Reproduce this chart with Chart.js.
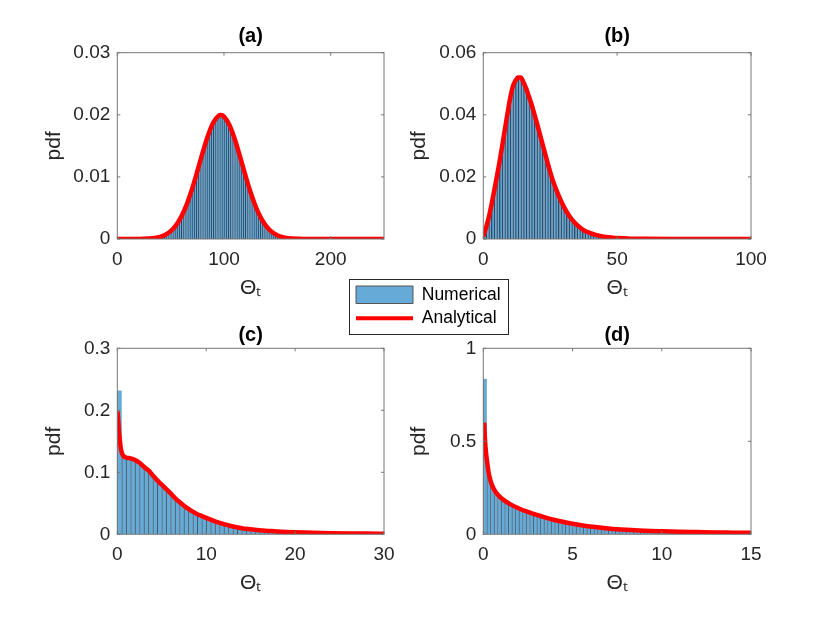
<!DOCTYPE html>
<html>
<head>
<meta charset="utf-8">
<script src="https://cdn.jsdelivr.net/npm/chart.js@4.4.1/dist/chart.umd.min.js"></script>
<style>
  body { margin: 0; background: #fff; }
  #fig { position: relative; width: 830px; height: 623px; overflow: hidden; background: #fff; }
  #fig > canvas { position: absolute; }
  #legendBox { position: absolute; left: 349px; top: 279px; width: 158px; height: 54px;
               border: 1px solid #262626; background: #fff; }
  #legendBox canvas { display: block; }
</style>
</head>
<body>
<div id="fig">
  <canvas id="pa" width="415" height="310" style="left:0;top:0"></canvas>
  <canvas id="pb" width="435" height="310" style="left:395px;top:0"></canvas>
  <canvas id="pc" width="415" height="313" style="left:0;top:310px"></canvas>
  <canvas id="pd" width="435" height="313" style="left:395px;top:310px"></canvas>
  <div id="legendBox"><canvas id="leg" width="158" height="54"></canvas></div>
</div>
<script>
// ---- (a) ----
const lineAX = [0, 10, 20, 30, 35, 40, 45, 50, 55, 60, 65, 70, 75, 80, 85, 90, 95, 97, 100, 105, 110, 115, 120, 125, 130, 135, 140, 145, 150, 155, 160, 170, 180, 200, 225, 250];
const lineAY = [0, 0, 0, 0.00007, 0.00016, 0.00034, 0.00068, 0.00126, 0.0022, 0.0036, 0.00554, 0.00802, 0.01089, 0.0139, 0.01666, 0.01876, 0.01985, 0.01995, 0.01972, 0.01841, 0.01615, 0.0133, 0.0103, 0.00749, 0.00511, 0.00328, 0.00198, 0.00112, 0.0006, 0.0003, 0.00014, 0.00003, 0, 0, 0, 0];
const binStartA = 40, binWidthA = 2;
const histA = [0.0004, 0.00052, 0.00068, 0.00088, 0.00112, 0.00142, 0.00177, 0.0022, 0.0027, 0.00328,
  0.00395, 0.0047, 0.00555, 0.00648, 0.00749, 0.00857, 0.00971, 0.01089, 0.0121, 0.0133,
  0.01448, 0.01561, 0.01666, 0.0176, 0.01841, 0.01907, 0.01955, 0.01985, 0.01995, 0.01985,
  0.01955, 0.01907, 0.01841, 0.0176, 0.01666, 0.01561, 0.01448, 0.0133, 0.0121, 0.01089,
  0.00971, 0.00857, 0.00749, 0.00648, 0.00555, 0.0047, 0.00395, 0.00328, 0.0027, 0.0022,
  0.00177, 0.00142, 0.00112, 0.00088, 0.00068, 0.00052, 0.0004, 0.0003, 0.00022, 0.00016];
const xTicksA = [0, 100, 200];
const yTicksA = [0, 0.01, 0.02, 0.03];

// ---- (b) ----
const lineBX = [0, 1, 2, 3, 4, 5, 6, 7, 8, 9, 10, 11, 12, 13, 14, 15, 16, 17, 18, 19, 20, 22, 24, 26, 28, 30, 32, 34, 36, 38, 40, 42, 45, 50, 55, 60, 70, 80, 90, 100];
const lineBY = [0.0008, 0.0036, 0.0068, 0.0108, 0.0152, 0.0198, 0.0245, 0.0297, 0.035, 0.0402, 0.0452, 0.049, 0.051, 0.052, 0.052, 0.0505, 0.0485, 0.046, 0.0434, 0.0405, 0.0374, 0.031, 0.0246, 0.0188, 0.0143, 0.0105, 0.0076, 0.0054, 0.0038, 0.0026, 0.0019, 0.0013, 0.0007, 0.0003, 0.0001, 0.00005, 0, 0, 0, 0];
const binStartB = 0, binWidthB = 1;
const histB = [0.0022, 0.0052, 0.0088, 0.013, 0.0175, 0.0221, 0.0271, 0.0323, 0.0376, 0.0427,
  0.0471, 0.05, 0.0515, 0.0522, 0.0513, 0.0495, 0.0473, 0.0447, 0.042, 0.039,
  0.0358, 0.0326, 0.0294, 0.0262, 0.0231, 0.0202, 0.0177, 0.0154, 0.0133, 0.0114,
  0.0098, 0.0083, 0.007, 0.0059, 0.005, 0.0042, 0.0035, 0.0029, 0.0024, 0.0021,
  0.0018, 0.0015, 0.0012, 0.001, 0.0008, 0.0007, 0.0006, 0.0005, 0.0004, 0.0003,
  0.0003, 0.0002, 0.0002, 0.0001, 0.0001];
const xTicksB = [0, 50, 100];
const yTicksB = [0, 0.02, 0.04, 0.06];

// ---- (c) ----
const lineCX = [0.02, 0.1, 0.2, 0.3, 0.4, 0.6, 0.8, 1, 1.5, 2, 2.5, 3, 3.5, 4, 4.5, 5, 5.5, 6, 6.5, 7, 7.5, 8, 8.5, 9, 9.5, 10, 11, 12, 13, 14, 15, 16, 17, 18, 19, 20, 22, 24, 26, 28, 30];
const lineCY = [0.198, 0.185, 0.165, 0.15, 0.138, 0.128, 0.125, 0.1235, 0.1225, 0.12, 0.1155, 0.109, 0.103, 0.095, 0.087, 0.08, 0.073, 0.066, 0.0585, 0.052, 0.046, 0.041, 0.0365, 0.0325, 0.0295, 0.0265, 0.021, 0.0165, 0.0125, 0.0098, 0.008, 0.0064, 0.0055, 0.0046, 0.0038, 0.0032, 0.0024, 0.0018, 0.0014, 0.0011, 0.0009];
const binStartC = 0, binWidthC = 0.5;
const histC = [0.232, 0.126, 0.123, 0.121, 0.118, 0.112, 0.106, 0.099, 0.091, 0.0835,
  0.0765, 0.0695, 0.062, 0.055, 0.049, 0.0435, 0.0388, 0.0345, 0.031, 0.028,
  0.0251, 0.0224, 0.0198, 0.0176, 0.0155, 0.0135, 0.0118, 0.0105, 0.0093, 0.0084,
  0.0076, 0.0068, 0.0062, 0.0057, 0.0053, 0.0048, 0.0044, 0.004, 0.0036, 0.0033,
  0.0031, 0.0029, 0.0027, 0.0025, 0.0023, 0.0022, 0.002, 0.0019, 0.0018, 0.0017];
const xTicksC = [0, 10, 20, 30];
const yTicksC = [0, 0.1, 0.2, 0.3];

// ---- (d) ----
const lineDX = [0.05, 0.1, 0.15, 0.2, 0.3, 0.4, 0.5, 0.7, 1, 1.5, 2, 2.5, 3, 3.5, 4, 4.5, 5, 5.5, 6, 6.5, 7, 7.5, 8, 9, 10, 11, 12, 13, 14, 15];
const lineDY = [0.6, 0.5, 0.44, 0.4, 0.33, 0.29, 0.262, 0.226, 0.195, 0.162, 0.139, 0.12, 0.104, 0.09, 0.077, 0.066, 0.057, 0.049, 0.042, 0.036, 0.031, 0.027, 0.024, 0.0195, 0.0165, 0.014, 0.012, 0.01, 0.009, 0.008];
const binStartD = 0, binWidthD = 0.2;
const histD = [0.836, 0.32, 0.26, 0.226, 0.204, 0.188, 0.175, 0.162, 0.152, 0.143,
  0.135, 0.127, 0.12, 0.113, 0.107, 0.101, 0.0955, 0.09, 0.0848, 0.0796,
  0.0748, 0.0704, 0.066, 0.0624, 0.0588, 0.0554, 0.0522, 0.049, 0.0462, 0.0434,
  0.0408, 0.0384, 0.036, 0.034, 0.032, 0.0302, 0.0286, 0.027, 0.0258, 0.0246,
  0.0236, 0.0227, 0.0218, 0.021, 0.0202, 0.0194, 0.0188, 0.0182, 0.0176, 0.017,
  0.0164, 0.0158, 0.0152, 0.0146, 0.0142, 0.0138, 0.0134, 0.013, 0.0126, 0.0122];
const xTicksD = [0, 5, 10, 15];
const yTicksD = [0, 0.5, 1];

const seriesNames = ['Numerical', 'Analytical'];

Chart.defaults.font.family = '"Liberation Sans", Arial, Helvetica, sans-serif';
Chart.defaults.color = '#262626';

const BAR_FILL = '#66aad7';
const RED = '#ff0000';
const AXIS = '#777777';

// box round the axes with MATLAB style inward ticks
const framePlugin = {
  id: 'frame',
  afterDraw(chart) {
    const { ctx, chartArea: a } = chart;
    const x = chart.scales.x, y = chart.scales.y;
    ctx.save();
    ctx.strokeStyle = AXIS;
    ctx.lineWidth = 1;
    ctx.strokeRect(a.left, a.top, a.right - a.left, a.bottom - a.top);
    ctx.beginPath();
    x.ticks.forEach(t => {
      const px = x.getPixelForValue(t.value);
      ctx.moveTo(px, a.bottom); ctx.lineTo(px, a.bottom - 3);
      ctx.moveTo(px, a.top); ctx.lineTo(px, a.top + 3);
    });
    y.ticks.forEach(t => {
      const py = y.getPixelForValue(t.value);
      ctx.moveTo(a.left, py); ctx.lineTo(a.left + 3, py);
      ctx.moveTo(a.right, py); ctx.lineTo(a.right - 3, py);
    });
    ctx.stroke();
    ctx.restore();
  }
};

function makePanel(id, title, lx, ly, binStart, binWidth, hist, xMax, yMax, xTicks, yTicks, lay) {
  const barData = hist.map((v, i) => ({ x: binStart + binWidth * (i + 0.5), y: v }));
  const lineData = lx.map((v, i) => ({ x: v, y: ly[i] }));
  return new Chart(document.getElementById(id), {
    type: 'bar',
    data: {
      datasets: [
        {
          type: 'line', label: seriesNames[1], data: lineData,
          borderColor: RED, borderWidth: 4.5, pointRadius: 0,
          cubicInterpolationMode: 'monotone', order: 0
        },
        {
          type: 'bar', label: seriesNames[0], data: barData,
          backgroundColor: BAR_FILL, borderColor: lay.edge,
          borderWidth: { left: lay.edgeW, right: 0, top: 0, bottom: 0 },
          barPercentage: 1, categoryPercentage: 1, order: 1
        }
      ]
    },
    options: {
      responsive: false,
      animation: false,
      layout: { padding: lay.pad },
      plugins: {
        legend: { display: false },
        tooltip: { enabled: false },
        title: {
          display: true, text: title, fullSize: false, color: '#000',
          font: { size: 20, weight: 'bold' },
          padding: { top: 0, bottom: lay.titleGap }
        }
      },
      scales: {
        x: {
          type: 'linear', min: 0, max: xMax, offset: false,
          grid: { display: false, drawTicks: false },
          border: { display: false },
          afterBuildTicks: s => { s.ticks = xTicks.map(v => ({ value: v })); },
          afterFit: s => { s.height = 61.6; },
          ticks: { padding: 9, font: { size: 19 }, maxRotation: 0, autoSkip: false, callback: v => String(v) },
          title: { display: true, text: 'Θₜ', font: { size: 21 }, padding: 0 }
        },
        y: {
          type: 'linear', min: 0, max: yMax,
          grid: { display: false, drawTicks: false },
          border: { display: false },
          afterBuildTicks: s => { s.ticks = yTicks.map(v => ({ value: v })); },
          afterFit: s => { s.width = lay.yw; },
          ticks: { padding: 7, font: { size: 19 }, autoSkip: false, callback: v => String(v) },
          title: { display: true, text: 'pdf', font: { size: 21 }, padding: 0 }
        }
      }
    },
    plugins: [framePlugin]
  });
}

const topLeft = { pad: { top: 24, bottom: 9.4, left: 41.4, right: 31 }, titleGap: 4.7, yw: 75.9, edge: 'rgba(30,55,80,0.9)', edgeW: 1.35 };
const topRight = { pad: { top: 24, bottom: 9.4, left: 12, right: 79 }, titleGap: 4.7, yw: 76.3, edge: 'rgba(30,55,80,0.9)', edgeW: 1.7 };
const botLeft = { pad: { top: 13.5, bottom: 27.1, left: 41.4, right: 31 }, titleGap: 0.8, yw: 75.9, edge: 'rgba(10,20,30,0.7)', edgeW: 1.0 };
const botRight = { pad: { top: 13.5, bottom: 27.1, left: 12, right: 79 }, titleGap: 0.8, yw: 76.3, edge: 'rgba(10,20,30,0.7)', edgeW: 0.9 };

makePanel('pa', '(a)', lineAX, lineAY, binStartA, binWidthA, histA, 250, 0.03, xTicksA, yTicksA, topLeft);
makePanel('pb', '(b)', lineBX, lineBY, binStartB, binWidthB, histB, 100, 0.06, xTicksB, yTicksB, topRight);
makePanel('pc', '(c)', lineCX, lineCY, binStartC, binWidthC, histC, 30, 0.3, xTicksC, yTicksC, botLeft);
makePanel('pd', '(d)', lineDX, lineDY, binStartD, binWidthD, histD, 15, 1, xTicksD, yTicksD, botRight);

// shared legend in its own little chart
new Chart(document.getElementById('leg'), {
  type: 'bar',
  data: { datasets: [] },
  options: {
    responsive: false,
    animation: false,
    layout: { padding: 0 },
    scales: { x: { display: false }, y: { display: false } },
    plugins: {
      tooltip: { enabled: false },
      legend: {
        display: true, position: 'top', align: 'start', maxHeight: 60,
        labels: {
          usePointStyle: true, pointStyleWidth: 57, boxHeight: 18, padding: 6,
          color: '#000', font: { size: 17.5 },
          generateLabels: () => [
            { text: seriesNames[0], fillStyle: BAR_FILL, strokeStyle: '#555', lineWidth: 1, pointStyle: 'rect', hidden: false, datasetIndex: 0 },
            { text: seriesNames[1], fillStyle: RED, strokeStyle: RED, lineWidth: 4, pointStyle: 'line', hidden: false, datasetIndex: 1 }
          ]
        }
      }
    }
  }
});
</script>
</body>
</html>
